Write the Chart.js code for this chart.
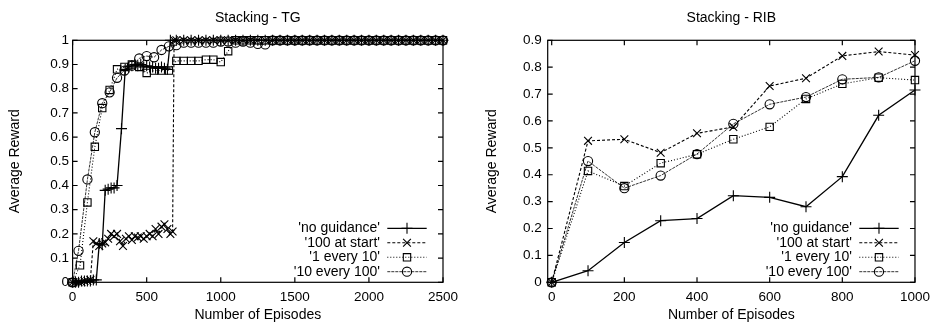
<!DOCTYPE html>
<html lang="en">
<head>
<meta charset="UTF-8">
<title>Stacking - TG / RIB</title>
<script src="https://cdn.jsdelivr.net/npm/chart.js@4.4.0/dist/chart.umd.min.js"></script>
<style>
  body { margin: 0; background: #fff; width: 937px; height: 325px; overflow: hidden; position: relative; }
  .panel { position: absolute; top: 0; }
</style>
</head>
<body>
<div class="panel" style="left:0"><canvas id="tg" width="468" height="325"></canvas></div>
<div class="panel" style="left:468px"><canvas id="rib" width="469" height="325"></canvas></div>
<script>
// series names, same for both panels
const seriesNames = ["'no guidance'", "'100 at start'", "'1 every 10'", "'10 every 100'"];

// ---- Stacking - TG ----
const tgXTicks = [0, 500, 1000, 1500, 2000, 2500];
const tgYTicks = [0, 0.1, 0.2, 0.3, 0.4, 0.5, 0.6, 0.7, 0.8, 0.9, 1];
// episodes where all runs sit on the top plateau
const tgPlateauX = [700, 750, 800, 850, 900, 950, 1000, 1050, 1100, 1150, 1200, 1250, 1300, 1350, 1400, 1450, 1500, 1550, 1600, 1650, 1700, 1750, 1800, 1850, 1900, 1950, 2000, 2050, 2100, 2150, 2200, 2250, 2300, 2350, 2400, 2450, 2500];

const tgNoGuidX = [0, 20, 40, 60, 80, 100, 120, 140, 160, 180, 200, 220, 240, 260, 280, 300, 330, 355, 380, 400, 420, 440, 460, 480, 500, 520, 540, 560, 580, 600, 620, 640, 660];
const tgNoGuidY = [0, 0, 0, 0.005, 0.005, 0.005, 0.005, 0.01, 0.01, 0.16, 0.155, 0.38, 0.385, 0.39, 0.39, 0.4, 0.635, 0.88, 0.89, 0.895, 0.9, 0.895, 0.9, 0.89, 0.895, 0.89, 0.89, 0.885, 0.885, 0.89, 0.885, 0.88, 1];
const tgNoGuidTopY = [1, 1, 1, 1, 1, 1, 1, 1, 1, 1, 1, 1, 1, 1, 1, 1, 1, 1, 1, 1, 1, 1, 1, 1, 1, 1, 1, 1, 1, 1, 1, 1, 1, 1, 1, 1, 1];

const tgStartX = [0, 20, 40, 60, 80, 100, 120, 140, 160, 180, 200, 220, 240, 260, 280, 300, 320, 340, 360, 380, 400, 420, 440, 460, 480, 500, 520, 540, 560, 580, 600, 620, 640, 660, 675, 685];
const tgStartY = [0, 0, 0, 0, 0.005, 0.005, 0.01, 0.17, 0.16, 0.15, 0.16, 0.165, 0.18, 0.2, 0.19, 0.2, 0.17, 0.15, 0.18, 0.19, 0.175, 0.19, 0.185, 0.19, 0.18, 0.19, 0.2, 0.19, 0.22, 0.2, 0.23, 0.24, 0.22, 0.2, 0.21, 1];
const tgStartTopY = [1, 1, 1, 1, 1, 1, 1, 1, 1, 1, 1, 1, 1, 1, 1, 1, 1, 1, 1, 1, 1, 1, 1, 1, 1, 1, 1, 1, 1, 1, 1, 1, 1, 1, 1, 1, 1];

const tgOneTenX = [0, 50, 100, 150, 200, 250, 300, 350, 400, 450, 500, 550, 600, 650, 700, 750, 800, 850, 900, 950, 1000, 1050];
const tgOneTenY = [0, 0.07, 0.33, 0.56, 0.72, 0.795, 0.88, 0.89, 0.9, 0.89, 0.865, 0.875, 0.875, 0.875, 0.915, 0.915, 0.915, 0.915, 0.92, 0.92, 0.91, 0.955];
const tgOneTenTopY = [1, 1, 1, 1, 1, 1, 1, 1, 1, 1, 1, 1, 1, 1, 1, 1, 1, 1, 1, 1, 1, 1, 1, 1, 1, 1, 1, 1, 1]; // from 1100

const tgTenHundX = [0, 40, 100, 150, 200, 250, 300, 350, 400, 450, 500, 550, 600, 650];
const tgTenHundY = [0, 0.13, 0.425, 0.62, 0.74, 0.785, 0.845, 0.875, 0.895, 0.925, 0.935, 0.93, 0.96, 0.975];
const tgTenHundTopY = [0.98, 0.99, 0.99, 0.99, 0.99, 0.99, 0.995, 0.995, 0.99, 0.995, 0.99, 0.985, 0.983, 1, 1, 1, 1, 1, 1, 1, 1, 1, 1, 1, 1, 1, 1, 1, 1, 1, 1, 1, 1, 1, 1, 1, 1];

// ---- Stacking - RIB ----
const ribXTicks = [0, 200, 400, 600, 800, 1000];
const ribYTicks = [0, 0.1, 0.2, 0.3, 0.4, 0.5, 0.6, 0.7, 0.8, 0.9];
const ribX = [0, 100, 200, 300, 400, 500, 600, 700, 800, 900, 1000];
const ribNoGuid = [0, 0.043, 0.148, 0.229, 0.237, 0.322, 0.316, 0.281, 0.393, 0.621, 0.715];
const ribStart = [0, 0.526, 0.532, 0.482, 0.554, 0.578, 0.73, 0.759, 0.842, 0.858, 0.845];
const ribOneTen = [0, 0.414, 0.358, 0.443, 0.476, 0.532, 0.578, 0.682, 0.738, 0.761, 0.752];
const ribTenHund = [0, 0.451, 0.35, 0.397, 0.477, 0.589, 0.662, 0.689, 0.755, 0.762, 0.824];

function pts(xs, ys) {
    return xs.map((x, i) => ({ x: x, y: ys[i] }));
}

const styles = [
    { pointStyle: 'cross', radius: 5.5, dash: [], color: '#000', width: 1.3 },
    { pointStyle: 'crossRot', radius: 5.5, dash: [3, 2], color: '#000', width: 1.1 },
    { pointStyle: 'rect', radius: 5.2, dash: [1, 2], color: '#000', width: 1.1 },
    { pointStyle: 'circle', radius: 4.6, dash: [3, 1], color: '#333', width: 1 }
];

Chart.defaults.font.family = "'Liberation Sans', Arial, sans-serif";
Chart.defaults.font.size = 13.5;
Chart.defaults.color = '#000';

// gnuplot style border with inward ticks on all four sides
const gpFrame = {
    id: 'gpFrame',
    beforeDatasetsDraw(chart) {
        const { ctx, chartArea: a } = chart;
        const xs = chart.scales.x, ys = chart.scales.y;
        ctx.save();
        ctx.strokeStyle = '#000';
        ctx.lineWidth = 1.2;
        ctx.beginPath();
        xs.ticks.forEach(t => {
            const p = xs.getPixelForValue(t.value);
            ctx.moveTo(p, a.bottom); ctx.lineTo(p, a.bottom - 5);
            ctx.moveTo(p, a.top); ctx.lineTo(p, a.top + 5);
        });
        ys.ticks.forEach(t => {
            const p = ys.getPixelForValue(t.value);
            ctx.moveTo(a.left, p); ctx.lineTo(a.left + 5, p);
            ctx.moveTo(a.right, p); ctx.lineTo(a.right - 5, p);
        });
        ctx.stroke();
        ctx.strokeRect(a.left, a.top, a.right - a.left, a.bottom - a.top);
        ctx.restore();
    }
};

// key box in the lower right corner of the plot
const gpKey = {
    id: 'gpKey',
    afterDatasetsDraw(chart) {
        const { ctx, chartArea: a } = chart;
        const rows = [54, 39.6, 25, 10.6];
        ctx.save();
        ctx.font = "14px 'Liberation Sans', Arial, sans-serif";
        ctx.textAlign = 'right';
        ctx.textBaseline = 'middle';
        chart.data.datasets.forEach((ds, i) => {
            const y = a.bottom - rows[i];
            const st = styles[i];
            ctx.fillStyle = '#000';
            ctx.fillText(ds.label, a.right - 63, y);
            ctx.strokeStyle = st.color;
            ctx.lineWidth = st.width;
            ctx.setLineDash(st.dash);
            ctx.beginPath();
            ctx.moveTo(a.right - 55.7, y);
            ctx.lineTo(a.right - 16.3, y);
            ctx.stroke();
            ctx.setLineDash([]);
            ctx.strokeStyle = '#000';
            ctx.lineWidth = 1.1;
            ctx.fillStyle = 'rgba(0,0,0,0)';
            Chart.helpers.drawPoint(ctx, { pointStyle: st.pointStyle, radius: st.radius, rotation: 0, borderWidth: 1.1 }, (a.right - 55.7 + a.right - 16.3) / 2, y);
        });
        ctx.restore();
    }
};

function makeChart(id, o) {
    const datasets = o.series.map((d, i) => ({
        label: seriesNames[i],
        data: d,
        borderColor: styles[i].color,
        borderWidth: styles[i].width,
        borderDash: styles[i].dash,
        pointStyle: styles[i].pointStyle,
        pointRadius: styles[i].radius,
        pointBorderColor: '#000',
        pointBackgroundColor: 'rgba(0,0,0,0)',
        pointBorderWidth: 1.1,
        tension: 0,
        clip: false
    }));
    return new Chart(document.getElementById(id), {
        type: 'line',
        data: { datasets: datasets },
        plugins: [gpFrame, gpKey],
        options: {
            responsive: false,
            animation: false,
            events: [],
            layout: { padding: { left: 0, right: o.padRight, top: 0, bottom: 0 } },
            plugins: {
                legend: { display: false },
                tooltip: { enabled: false },
                title: {
                    display: true,
                    text: o.title,
                    fullSize: false,
                    color: '#000',
                    font: { size: 14, weight: 'normal' },
                    padding: { top: 10.1, bottom: 13.4 }
                }
            },
            scales: {
                x: {
                    type: 'linear',
                    min: o.xMin,
                    max: o.xMax,
                    afterBuildTicks: s => { s.ticks = o.xTicks.map(v => ({ value: v })); },
                    afterFit: s => { s.height = 42.7; },
                    ticks: { padding: 7, maxRotation: 0, autoSkip: false, callback: v => String(v) },
                    grid: { display: false, drawTicks: false },
                    border: { display: false },
                    title: { display: true, text: 'Number of Episodes', font: { size: 14 }, padding: { top: 0, bottom: 1 } }
                },
                y: {
                    type: 'linear',
                    min: 0,
                    max: o.yMax,
                    afterBuildTicks: s => { s.ticks = o.yTicks.map(v => ({ value: v })); },
                    afterFit: s => { s.width = o.yWidth; },
                    ticks: { padding: o.yTickPad, autoSkip: false, callback: v => String(v) },
                    grid: { display: false, drawTicks: false },
                    border: { display: false },
                    title: { display: true, text: 'Average Reward', font: { size: 14 }, padding: { top: o.yTitlePad, bottom: 0 } }
                }
            }
        }
    });
}

makeChart('tg', {
    title: 'Stacking - TG',
    xMin: 0, xMax: 2500, yMax: 1,
    xTicks: tgXTicks, yTicks: tgYTicks,
    yWidth: 72.6, yTickPad: 3.6, yTitlePad: 7.1, padRight: 25,
    series: [
        pts(tgNoGuidX.concat(tgPlateauX), tgNoGuidY.concat(tgNoGuidTopY)),
        pts(tgStartX.concat(tgPlateauX), tgStartY.concat(tgStartTopY)),
        pts(tgOneTenX.concat(tgPlateauX.slice(8)), tgOneTenY.concat(tgOneTenTopY)),
        pts(tgTenHundX.concat(tgPlateauX), tgTenHundY.concat(tgTenHundTopY))
    ]
});

makeChart('rib', {
    title: 'Stacking - RIB',
    xMin: -11, xMax: 1000, yMax: 0.9,
    xTicks: ribXTicks, yTicks: ribYTicks,
    yWidth: 79.7, yTickPad: 6, yTitlePad: 15.5, padRight: 17,
    series: [
        pts(ribX, ribNoGuid),
        pts(ribX, ribStart),
        pts(ribX, ribOneTen),
        pts(ribX, ribTenHund)
    ]
});
</script>
</body>
</html>
